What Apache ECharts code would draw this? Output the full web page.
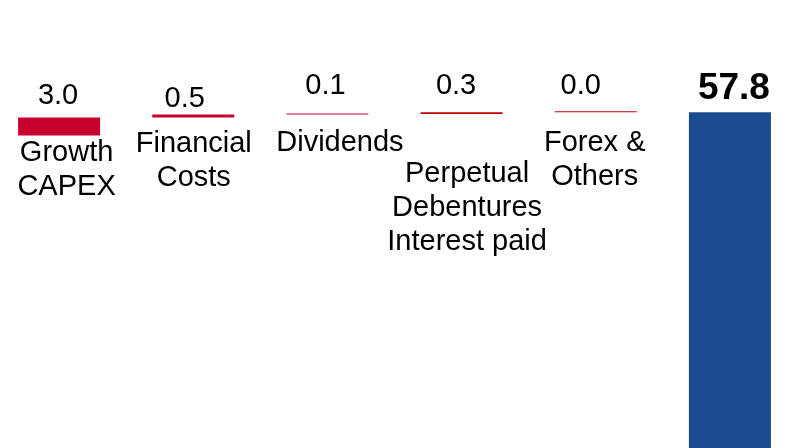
<!DOCTYPE html>
<html>
<head>
<meta charset="utf-8">
<script src="https://cdn.jsdelivr.net/npm/echarts@6/dist/echarts.min.js"></script>
<style>
  html, body { margin: 0; padding: 0; background: #ffffff; width: 792px; height: 448px; overflow: hidden; position: relative; }
  #chart { position: absolute; left: -8px; top: 0; width: 805px; height: 459px; }
</style>
</head>
<body>
<div id="chart"></div>
<script>
// ---- data ----
const categories = ['Growth\nCAPEX', 'Financial\nCosts', 'Dividends', 'Perpetual\nDebentures\nInterest paid', 'Forex &\nOthers', ''];
const deltas = [3.0, 0.5, 0.1, 0.3, 0.0];
const total = 57.8;

// ---- layout (label placement tweaks, not data) ----
const valueLabelShift = [[-1, 7], [-8.5, 1.5], [-2, 13.5], [-5.5, 12], [-15, 10.5], [4, 6]]; // [dx, distance]
const nameLabelShift = [[7.5, 0.5], [0.5, 9], [12.5, 11], [5.5, 42.5], [-1, 14]];           // [dx, dy]
const valueLabelDrop = 2.5;
const redColors = ['#C8002D', '#C8002D', '#C8002D', '#C00000', '#C00000'];
const blue = '#1B4A8E';
const FONT = 'Liberation Sans, Arial, sans-serif';

// waterfall bases computed from the deltas and the total
const bases = deltas.map((d, i) => {
  let rest = 0;
  for (let j = i; j < deltas.length; j++) rest += deltas[j];
  return +(total - rest).toFixed(2);
});
bases.push(0);
const tops = deltas.concat([total]);

const chart = echarts.init(document.getElementById('chart'), null, { renderer: 'canvas' });

chart.setOption({
  animation: false,
  backgroundColor: '#ffffff',
  grid: { left: 0, right: 0, top: 39, bottom: 0, containLabel: false },
  xAxis: {
    type: 'category',
    data: categories,
    show: false
  },
  yAxis: {
    type: 'value',
    min: 0,
    max: 70,
    show: false,
    splitLine: { show: false }
  },
  series: [
    {
      name: 'base',
      type: 'bar',
      stack: 'wf',
      barWidth: 82,
      itemStyle: { color: 'rgba(0,0,0,0)' },
      silent: true,
      data: bases.map((v, i) => {
        if (i >= nameLabelShift.length) return { value: v, label: { show: false } };
        return {
          value: v,
          label: {
            show: true,
            position: 'insideTop',
            distance: 0,
            offset: nameLabelShift[i],
            formatter: () => categories[i],
            color: '#000000',
            fontFamily: FONT,
            fontSize: 29,
            lineHeight: 34,
            align: 'center'
          }
        };
      })
    },
    {
      name: 'value',
      type: 'bar',
      stack: 'wf',
      barWidth: 82,
      barMinHeight: 1,
      data: tops.map((v, i) => {
        const isTotal = i === tops.length - 1;
        return {
          value: v,
          itemStyle: { color: isTotal ? blue : redColors[i] },
          label: {
            show: true,
            position: 'top',
            distance: valueLabelShift[i][1],
            offset: [valueLabelShift[i][0], valueLabelDrop],
            formatter: () => v.toFixed(1),
            color: '#000000',
            fontFamily: FONT,
            fontSize: isTotal ? 37 : 29,
            fontWeight: isTotal ? 'bold' : 'normal',
            lineHeight: isTotal ? 40 : 34
          }
        };
      })
    }
  ]
});
</script>
</body>
</html>
